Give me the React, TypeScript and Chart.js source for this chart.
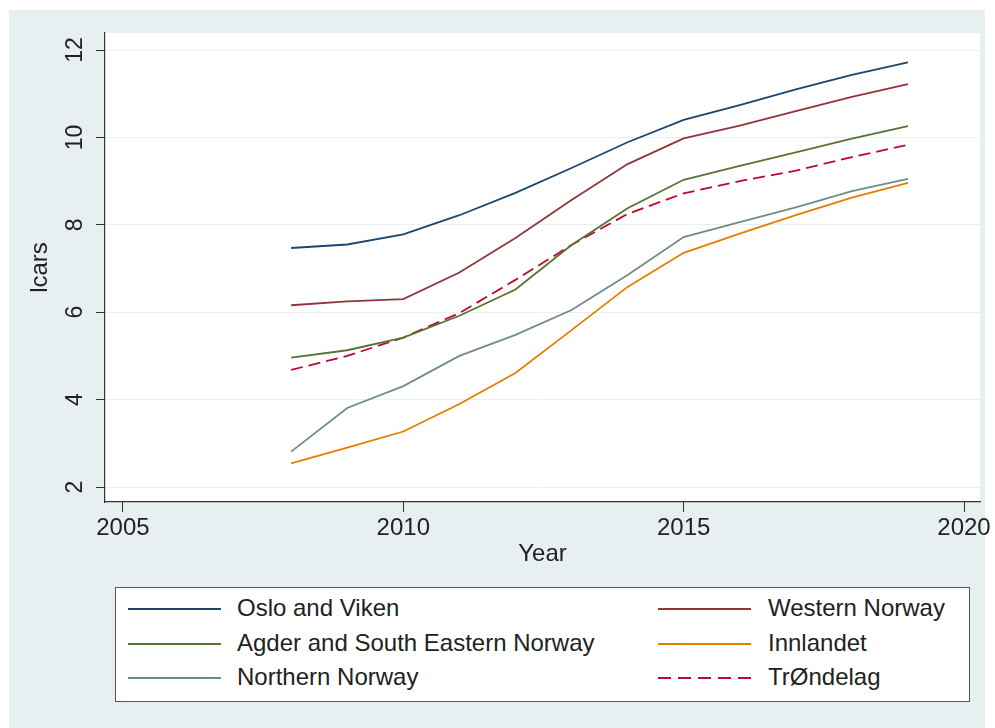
import React, { useEffect, useRef } from 'react';
import { Chart, registerables } from 'chart.js';

Chart.register(...registerables);

const YEARS = [2008, 2009, 2010, 2011, 2012, 2013, 2014, 2015, 2016, 2017, 2018, 2019];
const OSLO = [7.47, 7.55, 7.78, 8.22, 8.73, 9.3, 9.89, 10.4, 10.74, 11.1, 11.43, 11.72];
const WESTERN = [6.16, 6.25, 6.3, 6.91, 7.7, 8.57, 9.39, 9.98, 10.27, 10.6, 10.93, 11.22];
const AGDER = [4.96, 5.13, 5.42, 5.92, 6.52, 7.54, 8.38, 9.03, 9.35, 9.66, 9.97, 10.26];
const INNLANDET = [2.54, 2.9, 3.27, 3.9, 4.61, 5.59, 6.58, 7.36, 7.8, 8.22, 8.62, 8.96];
const NORTHERN = [2.81, 3.81, 4.31, 5.0, 5.48, 6.05, 6.85, 7.72, 8.06, 8.4, 8.77, 9.05];
const TRONDELAG = [4.68, 5.0, 5.42, 5.98, 6.74, 7.54, 8.25, 8.72, 9.0, 9.24, 9.55, 9.83];

const X_TICKS = [2005, 2010, 2015, 2020];
const Y_TICKS = [2, 4, 6, 8, 10, 12];

const SERIES_NAMES = [
  'Oslo and Viken',
  'Western Norway',
  'Agder and South Eastern Norway',
  'Innlandet',
  'Northern Norway',
  'Trøndelag',
];
const SERIES_VALUES = [OSLO, WESTERN, AGDER, INNLANDET, NORTHERN, TRONDELAG];
const SERIES_COLORS = ['#1a476f', '#90353b', '#55752f', '#e37e00', '#6e8e84', '#c10534'];
const SERIES_DASH: number[][] = [[], [], [], [], [], [12, 6]];

const LEGEND_LABELS = [
  'Oslo and Viken',
  'Western Norway',
  'Agder and South Eastern Norway',
  'Innlandet',
  'Northern Norway',
  'Tr\u00D8ndelag',
];

const FONT = '"Liberation Sans", Arial, Helvetica, sans-serif';
const TEXT = '#222';

const plotBg = {
  id: 'plotBg',
  beforeDraw(chart: any) {
    const { ctx, chartArea: a } = chart;
    ctx.save();
    ctx.fillStyle = '#ffffff';
    ctx.fillRect(a.left, a.top, a.right - a.left, a.bottom - a.top);
    ctx.restore();
  },
};

const yLabels = {
  id: 'yLabels',
  afterDraw(chart: any) {
    const s = chart.scales.y;
    const ctx = chart.ctx;
    ctx.save();
    ctx.font = '23px ' + FONT;
    ctx.fillStyle = TEXT;
    ctx.textAlign = 'center';
    ctx.textBaseline = 'middle';
    Y_TICKS.forEach((v) => {
      const y = s.getPixelForValue(v);
      ctx.save();
      ctx.translate(s.right - 29, y);
      ctx.rotate(-Math.PI / 2);
      ctx.fillText(String(v), 0, 0);
      ctx.restore();
    });
    ctx.restore();
  },
};

function ChartCanvas() {
  const ref = useRef<HTMLCanvasElement | null>(null);
  useEffect(() => {
    if (!ref.current) return;
    const datasets = SERIES_NAMES.map((name, i) => ({
      label: name,
      data: YEARS.map((yr, j) => ({ x: yr, y: SERIES_VALUES[i][j] })),
      borderColor: SERIES_COLORS[i],
      backgroundColor: SERIES_COLORS[i],
      borderWidth: 1.8,
      borderDash: SERIES_DASH[i],
      pointRadius: 0,
      tension: 0,
      fill: false,
    }));
    const chart = new Chart(ref.current, {
      type: 'line',
      data: { datasets },
      plugins: [plotBg, yLabels],
      options: {
        animation: false,
        responsive: false,
        maintainAspectRatio: false,
        layout: { padding: { top: 33, right: 15, left: 0, bottom: 0 } },
        plugins: { legend: { display: false }, tooltip: { enabled: false } },
        scales: {
          x: {
            type: 'linear',
            min: 2004.68,
            max: 2020.285,
            afterBuildTicks: (s: any) => {
              s.ticks = X_TICKS.map((v) => ({ value: v }));
            },
            afterFit: (s: any) => {
              s.height = 78;
            },
            ticks: {
              autoSkip: false,
              maxRotation: 0,
              minRotation: 0,
              padding: 2,
              color: TEXT,
              font: { family: FONT, size: 24 },
              callback: (v: any) => String(v),
            },
            grid: {
              drawOnChartArea: false,
              drawTicks: true,
              tickLength: 10,
              tickColor: '#333',
              tickWidth: 1,
            },
            border: { display: true, color: '#333', width: 1.2 },
            title: {
              display: true,
              text: 'Year',
              color: TEXT,
              font: { family: FONT, size: 24 },
              padding: { top: 0, bottom: 11 },
            },
          },
          y: {
            type: 'linear',
            min: 1.657,
            max: 12.39,
            afterBuildTicks: (s: any) => {
              s.ticks = Y_TICKS.map((v) => ({ value: v }));
            },
            afterFit: (s: any) => {
              s.width = 105;
            },
            ticks: { display: false },
            grid: {
              drawOnChartArea: true,
              color: '#eaf0f2',
              lineWidth: 1,
              drawTicks: true,
              tickLength: 9,
              tickColor: '#333',
              tickWidth: 1,
            },
            border: { display: true, color: '#333', width: 1.2 },
            title: {
              display: true,
              text: 'lcars',
              color: TEXT,
              font: { family: FONT, size: 24 },
              padding: { top: 26, bottom: 0 },
            },
          },
        },
      },
    });
    return () => chart.destroy();
  }, []);
  return (
    <canvas
      ref={ref}
      width={995}
      height={580}
      style={{ position: 'absolute', left: 0, top: 0, width: 995, height: 580 }}
    />
  );
}

function LegendBox() {
  const rows = [0, 1, 2];
  const cols = [
    { lineLeft: 12, textLeft: 121 },
    { lineLeft: 542, textLeft: 652 },
  ];
  return (
    <div
      style={{
        position: 'absolute',
        left: 115,
        top: 587,
        width: 853,
        height: 113,
        background: '#ffffff',
        border: '1px solid #555',
        fontFamily: FONT,
        fontSize: 24,
        color: TEXT,
      }}
    >
      {rows.map((r) =>
        cols.map((c, ci) => {
          const idx = r * 2 + ci;
          const dashed = SERIES_DASH[idx].length > 0;
          const top = 20 + r * 34.5;
          const color = SERIES_COLORS[idx];
          return (
            <React.Fragment key={idx}>
              <div
                style={{
                  position: 'absolute',
                  left: c.lineLeft,
                  top: top,
                  width: 93,
                  height: 2,
                  background: dashed
                    ? `repeating-linear-gradient(to right, ${color} 0px, ${color} 13px, transparent 13px, transparent 20px)`
                    : color,
                }}
              />
              <div
                style={{
                  position: 'absolute',
                  left: c.textLeft,
                  top: top - 14,
                  lineHeight: '28px',
                  whiteSpace: 'nowrap',
                }}
              >
                {LEGEND_LABELS[idx]}
              </div>
            </React.Fragment>
          );
        })
      )}
    </div>
  );
}

export default function App() {
  return (
    <div style={{ position: 'absolute', left: 0, top: 0, width: 995, height: 728, overflow: 'hidden' }}>
      <div
        style={{
          position: 'absolute',
          left: 9,
          top: 10,
          width: 976,
          height: 718,
          background: '#e8eff1',
        }}
      />
      <ChartCanvas />
      <LegendBox />
    </div>
  );
}
